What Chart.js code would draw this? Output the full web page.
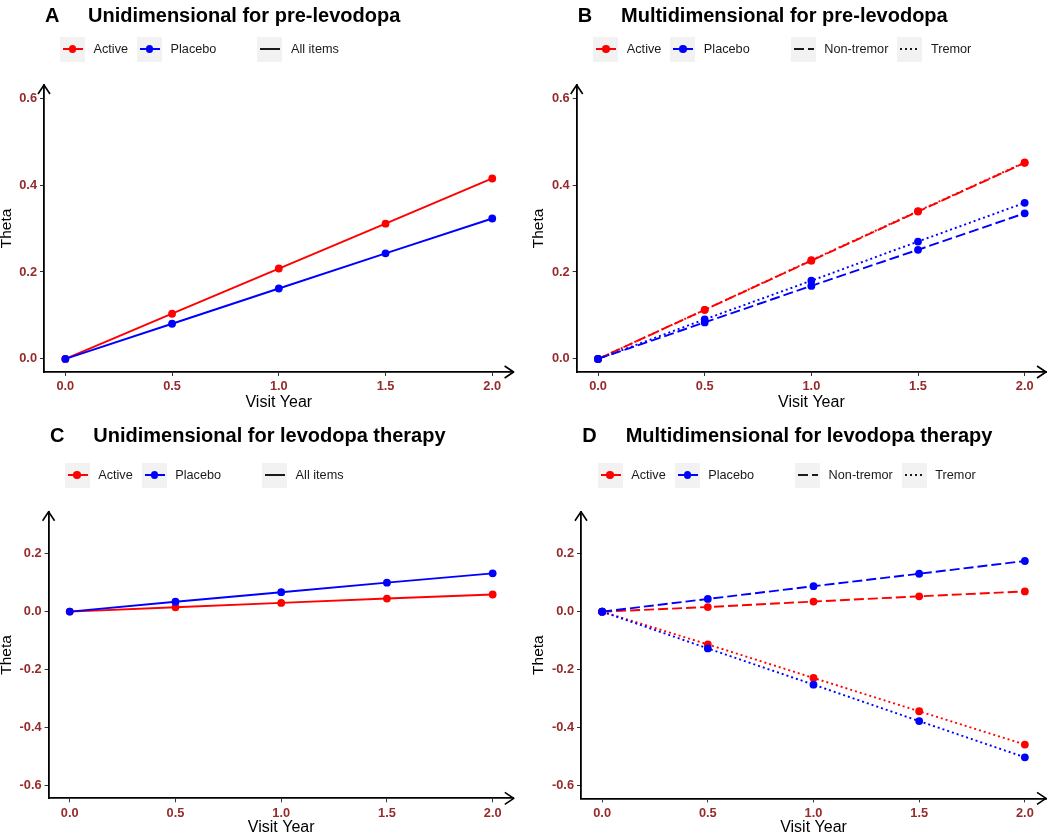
<!DOCTYPE html>
<html>
<head>
<meta charset="utf-8">
<script src="https://cdn.jsdelivr.net/npm/chart.js@4.4.1/dist/chart.umd.min.js"></script>
<style>
  body { margin: 0; background: #fff; font-family: "Liberation Sans", Arial, sans-serif; }
  #page { position: relative; width: 1050px; height: 834px; overflow: hidden; }
  .panel { position: absolute; width: 525px; height: 417px; }
  .panel canvas { position: absolute; left: 0; top: 0; }
  .title { position: absolute; font-weight: bold; font-size: 20px; line-height: 24px; white-space: nowrap; color: #000; }
  .legend { position: absolute; display: flex; align-items: center; height: 26px; font-size: 12.7px; white-space: nowrap; color: #1a1a1a; }
  .key { width: 25px; height: 25px; background: #f2f2f2; position: relative; margin-right: 8.5px; flex: none; }
  .key .ln { position: absolute; left: 3px; width: 20px; top: 11.5px; height: 2px; }
  .key .dot { position: absolute; left: 8.75px; top: 8.75px; width: 7.5px; height: 7.5px; border-radius: 50%; }
  .lbl { margin-right: 9px; }
  .gap { width: 32px; flex: none; }
</style>
</head>
<body>
<div id="page"></div>
<script>
// visit years and axis ticks
const visitYears = [0, 0.5, 1.0, 1.5, 2.0];
const xTicks = [0, 0.5, 1.0, 1.5, 2.0];
const yTicksPre = [0, 0.2, 0.4, 0.6];
const yTicksLev = [-0.6, -0.4, -0.2, 0, 0.2];

// A: unidimensional, pre-levodopa
const uniPreActive = [0, 0.104, 0.208, 0.311, 0.415];
const uniPrePlacebo = [0, 0.081, 0.162, 0.243, 0.323];

// B: multidimensional, pre-levodopa
const multiPreActiveNonTremor = [0, 0.113, 0.226, 0.339, 0.451];
const multiPreActiveTremor = [0, 0.113, 0.227, 0.340, 0.452];
const multiPrePlaceboNonTremor = [0, 0.084, 0.168, 0.251, 0.335];
const multiPrePlaceboTremor = [0, 0.091, 0.180, 0.270, 0.359];

// C: unidimensional, levodopa therapy
const uniLevActive = [0, 0.015, 0.030, 0.045, 0.059];
const uniLevPlacebo = [0, 0.034, 0.067, 0.100, 0.132];

// D: multidimensional, levodopa therapy
const multiLevActiveNonTremor = [0, 0.016, 0.035, 0.053, 0.070];
const multiLevActiveTremor = [0, -0.113, -0.229, -0.344, -0.459];
const multiLevPlaceboNonTremor = [0, 0.044, 0.088, 0.131, 0.175];
const multiLevPlaceboTremor = [0, -0.127, -0.252, -0.378, -0.503];

const groups = ["Active", "Placebo"];
const groupColors = { Active: "#ff0000", Placebo: "#0000ff" };
const dashes = { "All items": [], "Non-tremor": [10, 4], "Tremor": [2, 3] };
const keyPatterns = {
    "All items": "#1a1a1a",
    "Non-tremor": "repeating-linear-gradient(to right, #1a1a1a 0 10px, transparent 10px 14px)",
    "Tremor": "repeating-linear-gradient(to right, #1a1a1a 0 2px, transparent 2px 5px)",
};

const FONT = "'Liberation Sans', Arial, sans-serif";
const TICK_COLOR = "#952b2b";

const panels = [
    {
        letter: "A", title: "Unidimensional for pre-levodopa",
        left: 0, top: 0, letterX: 45, titleX: 88, titleY: 15, legendX: 60, legendY: 49,
        yw: 44, padR: 11.4, padT: 85, xh: 45, yMin: -0.03, yMax: 0.63, yTicks: yTicksPre,
        thetaPad: -2.8, xTitlePad: 5,
        types: ["All items"],
        series: [
            { group: "Placebo", type: "All items", data: uniPrePlacebo },
            { group: "Active", type: "All items", data: uniPreActive },
        ],
    },
    {
        letter: "B", title: "Multidimensional for pre-levodopa",
        left: 525, top: 0, letterX: 52.7, titleX: 96, titleY: 15, legendX: 68.3, legendY: 49,
        yw: 51.7, padR: 3.6, padT: 85, xh: 45, yMin: -0.03, yMax: 0.63, yTicks: yTicksPre,
        thetaPad: 4.2, xTitlePad: 5,
        types: ["Non-tremor", "Tremor"],
        series: [
            { group: "Placebo", type: "Non-tremor", data: multiPrePlaceboNonTremor },
            { group: "Placebo", type: "Tremor", data: multiPrePlaceboTremor },
            { group: "Active", type: "Non-tremor", data: multiPreActiveNonTremor },
            { group: "Active", type: "Tremor", data: multiPreActiveTremor },
        ],
    },
    {
        letter: "C", title: "Unidimensional for levodopa therapy",
        left: 0, top: 417, letterX: 50, titleX: 93.3, titleY: 18, legendX: 64.7, legendY: 58,
        yw: 48.6, padR: 11.2, padT: 94.7, xh: 35.7, yMin: -0.645, yMax: 0.345, yTicks: yTicksLev,
        thetaPad: -2.8, xTitlePad: -2.8,
        types: ["All items"],
        series: [
            { group: "Placebo", type: "All items", data: uniLevPlacebo },
            { group: "Active", type: "All items", data: uniLevActive },
        ],
    },
    {
        letter: "D", title: "Multidimensional for levodopa therapy",
        left: 525, top: 417, letterX: 57.3, titleX: 100.7, titleY: 18, legendX: 72.7, legendY: 58,
        yw: 56, padR: 4, padT: 94.8, xh: 35.6, yMin: -0.645, yMax: 0.345, yTicks: yTicksLev,
        thetaPad: 4.2, xTitlePad: -2.8,
        types: ["Non-tremor", "Tremor"],
        series: [
            { group: "Placebo", type: "Non-tremor", data: multiLevPlaceboNonTremor },
            { group: "Placebo", type: "Tremor", data: multiLevPlaceboTremor },
            { group: "Active", type: "Non-tremor", data: multiLevActiveNonTremor },
            { group: "Active", type: "Tremor", data: multiLevActiveTremor },
        ],
    },
];

// open arrow heads at the ends of both axes
const axisArrows = {
    id: "axisArrows",
    afterDraw(chart) {
        const { ctx, chartArea: a } = chart;
        ctx.save();
        ctx.strokeStyle = "#000";
        ctx.lineWidth = 1.6;
        ctx.lineJoin = "round";
        ctx.beginPath();
        ctx.moveTo(a.left - 6, a.top + 9);
        ctx.lineTo(a.left, a.top);
        ctx.lineTo(a.left + 6, a.top + 9);
        ctx.moveTo(a.right - 9, a.bottom - 6);
        ctx.lineTo(a.right, a.bottom);
        ctx.lineTo(a.right - 9, a.bottom + 6);
        ctx.stroke();
        ctx.restore();
    },
};

function buildLegend(p) {
    const leg = document.createElement("div");
    leg.className = "legend";
    leg.style.left = p.legendX + "px";
    leg.style.top = p.legendY - 13 + "px";
    let html = "";
    groups.forEach((g) => {
        html += `<div class="key"><div class="ln" style="background:${groupColors[g]}"></div>` +
            `<div class="dot" style="background:${groupColors[g]}"></div></div><span class="lbl">${g}</span>`;
    });
    html += `<div class="gap"></div>`;
    p.types.forEach((t) => {
        html += `<div class="key"><div class="ln" style="background:${keyPatterns[t]}"></div></div><span class="lbl">${t}</span>`;
    });
    leg.innerHTML = html;
    return leg;
}

const page = document.getElementById("page");

panels.forEach((p) => {
    const div = document.createElement("div");
    div.className = "panel";
    div.style.left = p.left + "px";
    div.style.top = p.top + "px";

    const canvas = document.createElement("canvas");
    canvas.width = 525;
    canvas.height = 417;
    div.appendChild(canvas);

    const letter = document.createElement("div");
    letter.className = "title";
    letter.textContent = p.letter;
    letter.style.left = p.letterX + "px";
    letter.style.top = p.titleY - 12 + "px";
    div.appendChild(letter);

    const title = document.createElement("div");
    title.className = "title";
    title.textContent = p.title;
    title.style.left = p.titleX + "px";
    title.style.top = p.titleY - 12 + "px";
    div.appendChild(title);

    div.appendChild(buildLegend(p));
    page.appendChild(div);

    const datasets = p.series.map((s) => ({
        label: s.group + " " + s.type,
        data: visitYears.map((x, i) => ({ x: x, y: s.data[i] })),
        borderColor: groupColors[s.group],
        backgroundColor: groupColors[s.group],
        pointBackgroundColor: groupColors[s.group],
        borderDash: dashes[s.type],
        borderWidth: 1.9,
        pointRadius: 3.9,
        pointBorderWidth: 0,
        tension: 0,
        fill: false,
    }));

    new Chart(canvas, {
        type: "line",
        data: { datasets: datasets },
        plugins: [axisArrows],
        options: {
            responsive: false,
            animation: false,
            devicePixelRatio: 1,
            layout: { padding: { top: p.padT, right: p.padR, left: 0, bottom: 0 } },
            plugins: {
                legend: { display: false },
                tooltip: { enabled: false },
            },
            scales: {
                x: {
                    type: "linear",
                    min: -0.1,
                    max: 2.1,
                    afterBuildTicks: (s) => { s.ticks = xTicks.map((v) => ({ value: v })); },
                    afterFit: (s) => { s.height = p.xh; },
                    grid: { drawOnChartArea: false, drawTicks: true, tickLength: 4, color: "#333", lineWidth: 1 },
                    border: { display: true, color: "#000", width: 1.8 },
                    ticks: {
                        color: TICK_COLOR,
                        font: { family: FONT, size: 12.8, weight: "bold" },
                        padding: 3,
                        maxRotation: 0,
                        autoSkip: false,
                        callback: (v) => Number(v).toFixed(1),
                    },
                    title: {
                        display: true,
                        text: "Visit Year",
                        color: "#000",
                        font: { family: FONT, size: 16 },
                        padding: { top: 0, bottom: p.xTitlePad },
                    },
                },
                y: {
                    type: "linear",
                    min: p.yMin,
                    max: p.yMax,
                    afterBuildTicks: (s) => { s.ticks = p.yTicks.map((v) => ({ value: v })); },
                    afterFit: (s) => { s.width = p.yw; },
                    grid: { drawOnChartArea: false, drawTicks: true, tickLength: 4, color: "#333", lineWidth: 1 },
                    border: { display: true, color: "#000", width: 1.8 },
                    ticks: {
                        color: TICK_COLOR,
                        font: { family: FONT, size: 12.8, weight: "bold" },
                        padding: 3,
                        callback: (v) => Number(v).toFixed(1),
                    },
                    title: {
                        display: true,
                        text: "Theta",
                        color: "#000",
                        font: { family: FONT, size: 15.5 },
                        padding: { top: p.thetaPad, bottom: 0 },
                    },
                },
            },
        },
    });
});
</script>
</body>
</html>
